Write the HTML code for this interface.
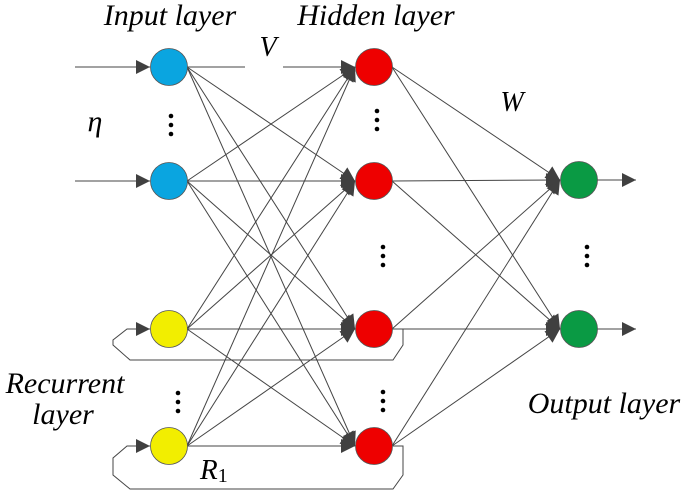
<!DOCTYPE html>
<html><head><style>body{margin:0;background:#fff}svg{display:block}text{font-family:"Liberation Serif","DejaVu Serif","Times New Roman",serif;font-style:italic;fill:#000}</style></head><body>
<svg width="685" height="495" viewBox="0 0 685 495" xmlns="http://www.w3.org/2000/svg">
<defs>
<marker id="b" viewBox="0 0 10 10" refX="10" refY="5" markerWidth="18" markerHeight="14" orient="auto" markerUnits="userSpaceOnUse"><path d="M0,0L10,5L0,10z" fill="#404040"/></marker></defs>
<g stroke="#444" stroke-width="1" fill="none">
<line x1="75" y1="67" x2="150" y2="67" marker-end="url(#b)"/>
<line x1="75" y1="181" x2="150" y2="181" marker-end="url(#b)"/>
<path d="M393,329H403V345L393,360H130L113,345V340L127,329H150" marker-end="url(#b)"/>
<path d="M393,446H403V475L393,489H130L113,475V458L127,446H150" marker-end="url(#b)"/>
<line x1="187" y1="67" x2="245" y2="67"/>
<g marker-end="url(#b)">
<line x1="283" y1="67" x2="355" y2="67"/>
<line x1="187" y1="67" x2="355" y2="181"/><line x1="187" y1="67" x2="355" y2="329"/><line x1="187" y1="67" x2="355" y2="446"/>
<line x1="187" y1="181" x2="355" y2="67"/><line x1="187" y1="181" x2="355" y2="181"/><line x1="187" y1="181" x2="355" y2="329"/><line x1="187" y1="181" x2="355" y2="446"/>
<line x1="187" y1="329" x2="355" y2="67"/><line x1="187" y1="329" x2="355" y2="181"/><line x1="187" y1="329" x2="355" y2="329"/><line x1="187" y1="329" x2="355" y2="446"/>
<line x1="187" y1="446" x2="355" y2="67"/><line x1="187" y1="446" x2="355" y2="181"/><line x1="187" y1="446" x2="355" y2="329"/><line x1="187" y1="446" x2="355" y2="446"/>
<line x1="392" y1="67" x2="560" y2="180"/><line x1="392" y1="67" x2="560" y2="329"/>
<line x1="392" y1="181" x2="560" y2="180"/><line x1="392" y1="181" x2="560" y2="329"/>
<line x1="392" y1="329" x2="560" y2="180"/><line x1="392" y1="329" x2="560" y2="329"/>
<line x1="392" y1="446" x2="560" y2="180"/><line x1="392" y1="446" x2="560" y2="329"/>
<line x1="597" y1="180" x2="636" y2="180"/><line x1="597" y1="329" x2="636" y2="329"/>
</g></g>
<g stroke="#555" stroke-width="0.8">
<circle cx="169" cy="67" r="18.5" fill="#0aa5e0"/><circle cx="169" cy="181" r="18.5" fill="#0aa5e0"/>
<circle cx="169" cy="329" r="18.5" fill="#f2ee00"/><circle cx="169" cy="446" r="18.5" fill="#f2ee00"/>
<circle cx="374" cy="67" r="18.5" fill="#ee0000"/><circle cx="374" cy="181" r="18.5" fill="#ee0000"/><circle cx="374" cy="329" r="18.5" fill="#ee0000"/><circle cx="374" cy="446" r="18.5" fill="#ee0000"/>
<circle cx="579" cy="180" r="18.5" fill="#0a9a44"/><circle cx="579" cy="329" r="18.5" fill="#0a9a44"/>
</g>
<g fill="#000">
<circle cx="171" cy="116" r="2.3"/><circle cx="171" cy="125" r="2.3"/><circle cx="171" cy="134" r="2.3"/>
<circle cx="178" cy="393" r="2.3"/><circle cx="178" cy="402" r="2.3"/><circle cx="178" cy="411" r="2.3"/>
<circle cx="377" cy="111" r="2.3"/><circle cx="377" cy="120" r="2.3"/><circle cx="377" cy="129" r="2.3"/>
<circle cx="383" cy="247" r="2.3"/><circle cx="383" cy="256" r="2.3"/><circle cx="383" cy="265" r="2.3"/>
<circle cx="383" cy="392" r="2.3"/><circle cx="383" cy="401" r="2.3"/><circle cx="383" cy="410" r="2.3"/>
<circle cx="587" cy="247" r="2.3"/><circle cx="587" cy="256" r="2.3"/><circle cx="587" cy="265" r="2.3"/>
</g>
<text x="170" y="25" font-size="30" text-anchor="middle">Input layer</text>
<text x="376" y="25" font-size="30" text-anchor="middle">Hidden layer</text>
<text x="268" y="56" font-size="28" text-anchor="middle">V</text>
<text x="512" y="111" font-size="28" text-anchor="middle">W</text>
<text x="95" y="131" font-size="30" text-anchor="middle">η</text>
<text x="65" y="393" font-size="30" text-anchor="middle">Recurrent</text>
<text x="63" y="424" font-size="30" text-anchor="middle">layer</text>
<text x="604" y="413" font-size="30" text-anchor="middle">Output layer</text>
<text x="200" y="479" font-size="29">R<tspan font-size="20" font-style="normal" dy="3">1</tspan></text>
</svg>
</body></html>
